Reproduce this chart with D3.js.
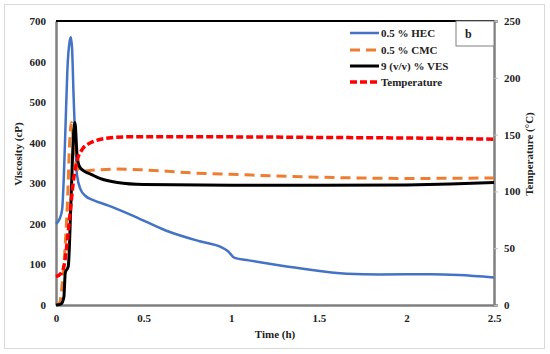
<!DOCTYPE html>
<html>
<head>
<meta charset="utf-8">
<script src="https://cdn.jsdelivr.net/npm/d3@7"></script>
<style>
body { margin: 0; background: #fff; }
svg text { font-family: "Liberation Serif", "DejaVu Serif", serif; font-weight: bold; fill: #222; }
</style>
</head>
<body>
<svg id="chart" width="550" height="354"></svg>
<script>
// values
var hecT = [0, 0.02, 0.035, 0.045, 0.055, 0.065, 0.078, 0.085, 0.092, 0.1, 0.11, 0.12, 0.14, 0.17, 0.21, 0.3, 0.45, 0.63, 0.82, 0.94, 0.98, 1.02, 1.1, 1.2, 1.4, 1.66, 1.85, 2.14, 2.3, 2.5];
var hecV = [200, 212, 235, 320, 450, 580, 650, 660, 630, 520, 400, 320, 285, 268, 259, 245, 218, 183, 157, 143, 133, 116, 110, 103, 90, 77, 75, 76, 74, 68];

var cmcT = [0, 0.02, 0.035, 0.05, 0.065, 0.08, 0.088, 0.1, 0.12, 0.14, 0.2, 0.35, 0.5, 0.8, 1.0, 1.5, 2.0, 2.5];
var cmcV = [0, 5, 50, 130, 250, 420, 450, 400, 340, 330, 332, 335, 333, 325, 322, 315, 312, 313];

var vesT = [0, 0.03, 0.045, 0.053, 0.07, 0.085, 0.1, 0.108, 0.12, 0.133, 0.16, 0.2, 0.25, 0.35, 0.5, 1.0, 1.5, 2.0, 2.25, 2.5];
var vesV = [0, 3, 20, 80, 95, 250, 420, 450, 370, 342, 330, 322, 312, 302, 297, 295, 295, 296, 298, 302];

var tempT = [0, 0.03, 0.05, 0.06, 0.08, 0.1, 0.12, 0.15, 0.2, 0.3, 0.4, 1.0, 1.5, 2.0, 2.5];
var tempV = [25, 28, 38, 50, 80, 110, 127, 137, 143, 147, 148, 148, 147.5, 147, 146];

var xTicks = [0, 0.5, 1, 1.5, 2, 2.5];
var yTicks = [0, 100, 200, 300, 400, 500, 600, 700];
var y2Ticks = [0, 50, 100, 150, 200, 250];

var series = [
    { name: '0.5 % HEC', t: hecT, v: hecV, axis: 'left', color: '#4472c4', width: 2.5, dash: null },
    { name: '0.5 % CMC', t: cmcT, v: cmcV, axis: 'left', color: '#ed7d31', width: 3, dash: '10,6' },
    { name: '9 (v/v) % VES', t: vesT, v: vesV, axis: 'left', color: '#000', width: 3, dash: null },
    { name: 'Temperature', t: tempT, v: tempV, axis: 'right', color: '#ff0000', width: 3.5, dash: '7,3' }
];

var svg = d3.select('#chart');
var pLeft = 56, pRight = 494, pTop = 21, pBottom = 305;

var x = d3.scaleLinear().domain([0, 2.5]).range([pLeft, pRight]);
var y = d3.scaleLinear().domain([0, 700]).range([pBottom, pTop]);
var y2 = d3.scaleLinear().domain([0, 250]).range([pBottom, pTop]);

// outer frame
svg.append('rect').attr('x', 4.5).attr('y', 4.5).attr('width', 540).attr('height', 344)
    .attr('fill', '#fff').attr('stroke', '#d9d9d9').attr('stroke-width', 1);

// axes
var gx = svg.append('g').attr('transform', 'translate(0,' + pBottom + ')')
    .call(d3.axisBottom(x).tickValues(xTicks).tickSize(0).tickPadding(9).tickFormat(d3.format('')));
var gy = svg.append('g').attr('transform', 'translate(' + pLeft + ',0)')
    .call(d3.axisLeft(y).tickValues(yTicks).tickSize(0).tickPadding(10));
var gy2 = svg.append('g').attr('transform', 'translate(' + pRight + ',0)')
    .call(d3.axisRight(y2).tickValues(y2Ticks).tickSize(4).tickPadding(6));

[gx, gy, gy2].forEach(function(g) {
    g.select('.domain').attr('stroke', '#808080').attr('stroke-width', 2.5);
    g.selectAll('.tick line').attr('stroke', '#bfbfbf');
    g.selectAll('.tick text').attr('font-size', 11).attr('fill', '#222')
        .attr('font-family', '"Liberation Serif", serif').attr('font-weight', 'bold');
});

// top border
svg.append('line').attr('x1', pLeft).attr('x2', pRight).attr('y1', pTop).attr('y2', pTop)
    .attr('stroke', '#000').attr('stroke-width', 2);

// lines
var lineGen = function(s) {
    var sc = s.axis == 'left' ? y : y2;
    return d3.line()
        .x(function(d) { return x(d[0]); })
        .y(function(d) { return sc(d[1]); })
        .curve(d3.curveMonotoneX)(d3.zip(s.t, s.v));
};

series.forEach(function(s) {
    svg.append('path').attr('d', lineGen(s))
        .attr('fill', 'none').attr('stroke', s.color).attr('stroke-width', s.width)
        .attr('stroke-dasharray', s.dash).attr('stroke-linejoin', 'round');
});

// legend
var legY = [33, 50, 66, 82];
series.forEach(function(s, i) {
    svg.append('line').attr('x1', 350).attr('x2', 379).attr('y1', legY[i]).attr('y2', legY[i])
        .attr('stroke', s.color).attr('stroke-width', s.width).attr('stroke-dasharray', s.dash);
    svg.append('text').attr('x', 381).attr('y', legY[i] + 4).attr('font-size', 11).text(s.name);
});

// panel label
svg.append('rect').attr('x', 456).attr('y', 21).attr('width', 38).attr('height', 25)
    .attr('fill', '#fff').attr('stroke', '#808080').attr('stroke-width', 1);
svg.append('text').attr('x', 465).attr('y', 38).attr('font-size', 12).attr('font-weight', 'normal').text('b');

// axis titles
svg.append('text').attr('x', 275).attr('y', 338).attr('text-anchor', 'middle').attr('font-size', 11).text('Time (h)');
svg.append('text').attr('transform', 'translate(22,154) rotate(-90)').attr('text-anchor', 'middle')
    .attr('font-size', 11).text('Viscosity (cP)');
svg.append('text').attr('transform', 'translate(533,154) rotate(-90)').attr('text-anchor', 'middle')
    .attr('font-size', 11).text('Temperature (°C)');
</script>
</body>
</html>
